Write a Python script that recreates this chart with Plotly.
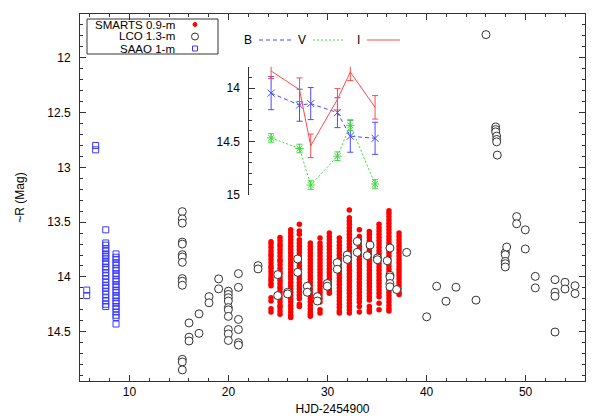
import plotly.graph_objects as go

# ---------------- data ----------------
# SMARTS 0.9-m (R), one list of magnitudes per night
smarts_nights = [24.29, 25.20, 26.28, 27.15, 28.26, 29.24, 30.18,
                 31.19, 32.20, 33.21, 34.22, 35.20, 36.20, 37.22]
smarts_mags = [
    [13.68, 13.70, 13.73, 13.76, 13.79, 13.81, 13.84, 13.87, 13.90, 13.92, 13.95, 13.98, 14.01, 14.03, 14.06, 14.08, 14.19, 14.22, 14.29, 14.32],
    [13.64, 13.67, 13.70, 13.72, 13.75, 13.78, 13.81, 13.84, 13.86, 13.89, 13.92, 13.95, 13.97, 14.00, 14.03, 14.06, 14.09, 14.11, 14.14, 14.17, 14.20, 14.23, 14.26, 14.28, 14.31, 14.34],
    [13.57, 13.60, 13.63, 13.66, 13.69, 13.72, 13.75, 13.78, 13.81, 13.84, 13.87, 13.90, 13.93, 13.96, 13.99, 14.02, 14.05, 14.08, 14.11, 14.14, 14.17, 14.20, 14.23, 14.26, 14.29, 14.32, 14.35, 14.37],
    [13.52, 13.58, 13.61, 13.66, 13.69, 13.72, 13.75, 13.78, 13.81, 13.84, 13.87, 13.90, 13.93, 13.96, 13.99, 14.02, 14.05, 14.08, 14.11, 14.14, 14.17, 14.20, 14.25, 14.27],
    [13.69, 13.72, 13.75, 13.78, 13.81, 13.84, 13.87, 13.90, 13.93, 13.96, 13.99, 14.02, 14.05, 14.08, 14.11, 14.14, 14.17, 14.20, 14.23, 14.26, 14.29, 14.32, 14.34, 14.36],
    [13.645, 13.69, 13.72, 13.75, 13.78, 13.81, 13.84, 13.87, 13.90, 13.93, 13.96, 13.99, 14.02, 14.05, 14.08, 14.11, 14.14, 14.17, 14.20, 14.23, 14.30, 14.33],
    [13.60, 13.63, 13.66, 13.69, 13.72, 13.75, 13.78, 13.81, 13.84, 13.87, 13.90, 13.93, 13.96, 13.99, 14.02, 14.05, 14.08, 14.11, 14.13, 14.15],
    [13.645, 13.68, 13.71, 13.74, 13.77, 13.80, 13.83, 13.86, 13.89, 13.92, 13.95, 13.98, 14.01, 14.04, 14.07, 14.10, 14.13, 14.16, 14.19, 14.22, 14.25, 14.28, 14.31, 14.33],
    [13.39, 13.46, 13.49, 13.52, 13.55, 13.58, 13.61, 13.64, 13.67, 13.70, 13.73, 13.76, 13.79, 13.82, 13.85, 13.88, 13.91, 13.94, 13.97, 14.00, 14.03, 14.06, 14.09, 14.12, 14.15, 14.18, 14.21, 14.24, 14.27, 14.30, 14.33],
    [13.57, 13.63, 13.66, 13.69, 13.72, 13.75, 13.78, 13.81, 13.84, 13.87, 13.90, 13.93, 13.96, 13.99, 14.02, 14.05, 14.08, 14.11, 14.14, 14.17, 14.20, 14.23, 14.27, 14.32],
    [13.585, 13.61, 13.64, 13.67, 13.70, 13.73, 13.76, 13.79, 13.82, 13.85, 13.88, 13.91, 13.94, 13.97, 14.00, 14.03, 14.06, 14.09, 14.12, 14.15, 14.18, 14.21, 14.27, 14.30, 14.32],
    [13.52, 13.55, 13.58, 13.61, 13.64, 13.67, 13.70, 13.73, 13.76, 13.79, 13.82, 13.85, 13.88, 13.91, 13.94, 13.97, 14.00, 14.03, 14.06, 14.09, 14.12, 14.15, 14.18, 14.24, 14.30],
    [13.395, 13.42, 13.45, 13.48, 13.51, 13.54, 13.57, 13.60, 13.63, 13.66, 13.69, 13.72, 13.75, 13.78, 13.81, 13.84, 13.87, 13.90, 13.93, 13.96, 13.99, 14.02, 14.05, 14.08, 14.11, 14.14, 14.17, 14.20, 14.23, 14.26, 14.29, 14.31],
    [13.60, 13.63, 13.66, 13.69, 13.72, 13.75, 13.78, 13.81, 13.84, 13.87, 13.90, 13.93, 13.96, 13.99, 14.02, 14.05, 14.08, 14.11, 14.14, 14.16],
]

# LCO 1.3-m
lco_nights = [15.33, 16.01, 17.02, 18.03, 19.00, 19.98, 21.00, 22.98, 24.97, 25.97,
              26.98, 27.95, 28.97, 29.97, 30.98, 31.99, 33.00, 34.01, 34.29, 35.03,
              36.03, 36.30, 36.98, 37.99, 40.01, 41.02, 41.96, 42.97, 44.99, 46.00,
              46.98, 47.08, 47.14, 47.95, 48.09, 49.10, 49.97, 50.98, 52.97, 53.98, 54.99]
lco_mags = [
    [13.404, 13.47, 13.509, 13.682, 13.70, 13.797, 13.818, 13.867, 14.015, 14.04, 14.076, 14.752, 14.776, 14.849],
    [14.42, 14.55, 14.585],
    [14.337, 14.515],
    [14.18, 14.236],
    [14.018, 14.109],
    [14.13, 14.16, 14.19, 14.22, 14.28, 14.30, 14.36, 14.48, 14.52, 14.58],
    [13.97, 14.095, 14.388, 14.48, 14.60, 14.622],
    [13.897, 13.927],
    [13.979, 14.17],
    [14.14, 14.155],
    [13.836, 13.958],
    [14.085, 14.14],
    [14.18, 14.22],
    [14.06, 14.085],
    [13.87, 13.93],
    [13.80, 13.84],
    [13.676, 13.776],
    [13.806],
    [13.709],
    [13.827, 13.843],
    [13.852],
    [13.736, 13.985, 14.0, 14.06, 14.09],
    [14.115],
    [13.776],
    [14.364],
    [14.085],
    [14.222],
    [14.094],
    [14.212],
    [11.788],
    [12.631, 12.655, 12.676],
    [12.715, 12.745, 12.767],
    [12.888],
    [13.776, 13.797, 13.858, 13.879, 13.909],
    [13.727],
    [13.449, 13.515],
    [13.57, 13.745],
    [13.995, 14.10],
    [14.025, 14.14, 14.176, 14.503],
    [14.049, 14.11],
    [14.08, 14.152],
]

# SAAO 1-m
saao_nights = [5.68, 6.58, 7.60, 8.64]
saao_mags = [
    [14.12, 14.17],
    [12.80, 12.84],
    [13.57, 13.69, 13.71, 13.74, 13.76, 13.79, 13.81, 13.83, 13.86, 13.88, 13.91, 13.93, 13.96, 13.99,
     14.02, 14.05, 14.08, 14.10, 14.13, 14.16, 14.19, 14.22, 14.25, 14.27],
    [13.79, 13.82, 13.84, 13.87, 13.89, 13.92, 13.94, 13.97, 13.99, 14.02, 14.04, 14.07, 14.09, 14.12,
     14.14, 14.17, 14.19, 14.22, 14.24, 14.27, 14.29, 14.32, 14.35, 14.37, 14.43],
]

# Inset: multi-band light curves
inset_hjd = [24.3, 27.17, 28.3, 31.0, 32.3, 34.8]
B_mag = [14.047, 14.16, 14.145, 14.23, 14.45, 14.47]
B_err = [0.155, 0.15, 0.15, 0.14, 0.15, 0.15]
V_mag = [14.466, 14.565, 14.907, 14.637, 14.348, 14.897]
V_err = [0.04, 0.04, 0.04, 0.04, 0.05, 0.04]
I_mag = [13.84, 14.015, 14.54, 14.105, 13.85, 14.18]
I_err = [0.07, 0.11, 0.11, 0.10, 0.08, 0.11]

legend_labels = ["SMARTS 0.9-m", "LCO 1.3-m", "SAAO 1-m"]
band_labels = ["B", "V", "I"]

# ---------------- styling ----------------
RED = "#ff0000"
AX = "#333333"
SQ = "#3a3aff"
B_COL = "#4a4aff"
V_COL = "#3cdc3c"
I_COL = "#ff4a4a"
B_DASH = "4px,3px"
V_DASH = "2px,2px"
FONT = "Liberation Sans, Arial, Helvetica, sans-serif"

OFF = 8  # page body margin in the browser
X0, X1 = 5.0, 56.0
W, H = 598 - OFF, 419 - OFF
L, R, T, Bm = 80 - OFF, 13, 14 - OFF, 38
PW, PH = W - L - R, H - T - Bm


def px_x(p):
    return (p - OFF - L) / PW


def px_y(p):
    return (H - Bm - (p - OFF)) / PH


def flat(nights, mags):
    xs, ys = [], []
    for n, ms in zip(nights, mags):
        for m in ms:
            xs.append(n)
            ys.append(m)
    return xs, ys


fig = go.Figure()

sx, sy = flat(smarts_nights, smarts_mags)
fig.add_trace(go.Scatter(x=sx, y=sy, mode="markers", name=legend_labels[0],
                         marker=dict(symbol="circle", size=5.5, color=RED, line=dict(width=0))))

ax_, ay_ = flat(saao_nights, saao_mags)
fig.add_trace(go.Scatter(x=ax_, y=ay_, mode="markers", name=legend_labels[2],
                         marker=dict(symbol="square-open", size=6, color=SQ, line=dict(width=1))))

lx, ly = flat(lco_nights, lco_mags)
fig.add_trace(go.Scatter(x=lx, y=ly, mode="markers", name=legend_labels[1],
                         marker=dict(symbol="circle", size=8, color="white",
                                     line=dict(width=1, color="#333333"))))

# inset
ins_d0, ins_d1 = px_x(249.3), 0.66
fig.add_trace(go.Scatter(x=inset_hjd, y=B_mag, mode="lines+markers", xaxis="x2", yaxis="y2",
                         line=dict(color=B_COL, width=1, dash=B_DASH),
                         marker=dict(symbol="x-thin-open", size=7, color=B_COL, line=dict(width=1, color=B_COL)),
                         error_y=dict(type="data", array=B_err, color=B_COL, thickness=1, width=3)))
fig.add_trace(go.Scatter(x=inset_hjd, y=V_mag, mode="lines+markers", xaxis="x2", yaxis="y2",
                         line=dict(color=V_COL, width=1, dash=V_DASH),
                         marker=dict(symbol="asterisk-open", size=7, color=V_COL, line=dict(width=1, color=V_COL)),
                         error_y=dict(type="data", array=V_err, color=V_COL, thickness=1, width=3)))
fig.add_trace(go.Scatter(x=inset_hjd, y=I_mag, mode="lines", xaxis="x2", yaxis="y2",
                         line=dict(color=I_COL, width=1),
                         error_y=dict(type="data", array=I_err, color=I_COL, thickness=1, width=3)))

# legend box, labels and symbols (paper units)
leg_y = [px_y(24.5), px_y(36.5), px_y(48.5)]
sym_x = px_x(195)
shapes = [dict(type="rect", xref="paper", yref="paper", x0=px_x(87), x1=px_x(218),
               y0=px_y(54), y1=px_y(19), line=dict(color=AX, width=1), fillcolor="rgba(0,0,0,0)")]


def sym(kind, yy, size, line_col, fill):
    return dict(type=kind, xref="paper", yref="paper", xsizemode="pixel", ysizemode="pixel",
                xanchor=sym_x, yanchor=yy, x0=-size / 2, x1=size / 2, y0=-size / 2, y1=size / 2,
                line=dict(color=line_col, width=1), fillcolor=fill)


shapes.append(sym("circle", leg_y[0], 4, RED, RED))
shapes.append(sym("circle", leg_y[1], 7, "#333333", "rgba(0,0,0,0)"))
shapes.append(sym("rect", leg_y[2], 5, SQ, "rgba(0,0,0,0)"))

annotations = []
for lab, yy in zip(legend_labels, leg_y):
    annotations.append(dict(xref="paper", yref="paper", x=px_x(176), y=yy, text=lab, showarrow=False,
                            xanchor="right", yanchor="middle", borderpad=0,
                            font=dict(size=11.5, color="#000")))

# inset legend
band_cols = [B_COL, V_COL, I_COL]
band_dash = [B_DASH, V_DASH, "solid"]
band_text_x = [248, 301.5, 358]
band_line = [(259, 292), (313, 345), (367, 400)]
ly_ = px_y(40)
for lab, c, d, tx, (a, b) in zip(band_labels, band_cols, band_dash, band_text_x, band_line):
    annotations.append(dict(xref="paper", yref="paper", x=px_x(tx), y=ly_, text=lab, showarrow=False,
                            xanchor="center", yanchor="middle", font=dict(size=12, color="#000")))
    shapes.append(dict(type="line", xref="paper", yref="paper", x0=px_x(a), x1=px_x(b), y0=ly_, y1=ly_,
                       line=dict(color=c, width=1, dash=d)))

fig.update_layout(
    width=W, height=H,
    margin=dict(l=L, r=R, t=T, b=Bm),
    paper_bgcolor="white", plot_bgcolor="white",
    showlegend=False,
    font=dict(family=FONT, size=12, color="#000"),
    shapes=shapes, annotations=annotations,
    xaxis=dict(range=[X0, X1], domain=[0, 1], showline=True, linecolor=AX, linewidth=1, mirror="ticks",
               ticks="inside", ticklen=6, tickwidth=1, tickcolor=AX, dtick=10, tick0=0,
               minor=dict(dtick=2, ticklen=3, ticks="inside", tickcolor=AX),
               showgrid=False, zeroline=False,
               title=dict(text="HJD-2454900", standoff=6, font=dict(size=12)), automargin=False),
    yaxis=dict(range=[14.95, 11.6], domain=[0, 1], showline=True, linecolor=AX, linewidth=1, mirror="ticks",
               ticks="inside", ticklen=6, tickwidth=1, tickcolor=AX, dtick=0.5, tick0=0,
               minor=dict(dtick=0.1, ticklen=3, ticks="inside", tickcolor=AX),
               showgrid=False, zeroline=False, ticklabelstandoff=6,
               title=dict(text="~R (Mag)", standoff=20, font=dict(size=12)), automargin=False),
    xaxis2=dict(domain=[ins_d0, ins_d1], range=[X0 + ins_d0 * (X1 - X0), X0 + ins_d1 * (X1 - X0)],
                anchor="y2", visible=False),
    yaxis2=dict(domain=[px_y(195), px_y(66.7)], range=[15, 13.8], anchor="x2",
                showline=True, linecolor=AX, linewidth=1, ticks="inside", ticklen=6, tickcolor=AX,
                dtick=0.5, tick0=0, minor=dict(dtick=0.1, ticklen=3, ticks="inside", tickcolor=AX),
                showgrid=False, zeroline=False, ticklabelstandoff=6, automargin=False),
)

fig.write_html("out.html")
